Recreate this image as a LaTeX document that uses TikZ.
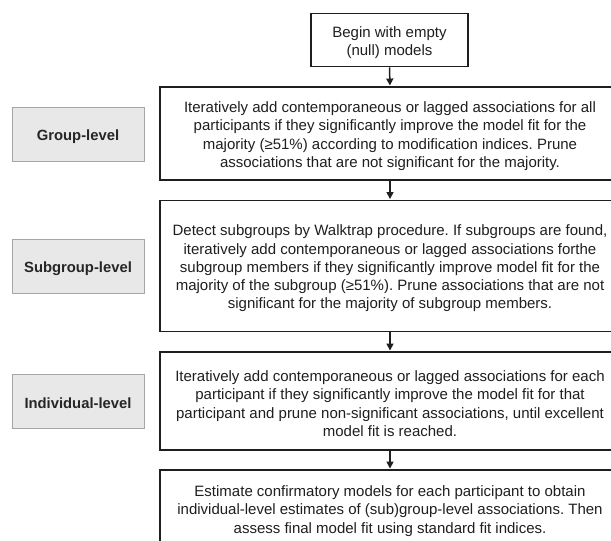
\documentclass[tikz,border=0pt]{standalone}
\usepackage{fontspec}
\setmainfont{Liberation Sans}
\usetikzlibrary{arrows.meta}
\frenchspacing
\begin{document}
\begin{tikzpicture}[x=1pt,y=-1pt,
  mainbox/.style={draw=black!88,line width=1.9pt,fill=white,minimum width=460pt,inner sep=0pt},
  maintext/.style={align=center,font=\frenchspacing\fontsize{15}{18.3}\selectfont,text=black!88,inner sep=0pt},
  levelbox/.style={draw=black!35,line width=0.9pt,fill=black!9,minimum width=132pt,minimum height=54pt,inner sep=0pt},
  leveltext/.style={font=\bfseries\fontsize{14.8}{16}\selectfont,text=black!85,inner sep=0pt},
  arr/.style={line width=1.5pt,draw=black!88,-{Triangle[length=7pt,width=7pt]},shorten >=0.5pt}]
\useasboundingbox (0,0) rectangle (611,541);
\clip (0,0) rectangle (611,541);
\node[mainbox,minimum width=157pt,minimum height=53pt] (start) at (389.5,40) {};
\node[mainbox,minimum height=93pt] (grp) at (390,133.5) {};
\node[mainbox,minimum height=131pt] (sub) at (390,266) {};
\node[mainbox,minimum height=98pt] (ind) at (390,401) {};
\node[mainbox,minimum height=78pt] (conf) at (390,509) {};
\node[maintext] (startT) at (389.5,42.5) {Begin with empty\\(null) models};
\node[maintext] (grpT) at (390,136) {Iteratively add contemporaneous or lagged associations for all\\participants if they significantly improve the model fit for the\\majority (≥51\%) according to modification indices. Prune\\associations that are not significant for the majority.};
\node[maintext] (subT) at (390,268.5) {Detect subgroups by Walktrap procedure. If subgroups are found,\\iteratively add contemporaneous or lagged associations forthe\\subgroup members if they significantly improve model fit for the\\majority of the subgroup (≥51\%). Prune associations that are not\\significant for the majority of subgroup members.};
\node[maintext] (indT) at (390,403.5) {Iteratively add contemporaneous or lagged associations for each\\participant if they significantly improve the model fit for that\\participant and prune non-significant associations, until excellent\\model fit is reached.};
\node[maintext] (confT) at (390,511) {Estimate confirmatory models for each participant to obtain\\individual-level estimates of (sub)group-level associations. Then\\assess final model fit using standard fit indices.};
\node[levelbox] (lg) at (78,134) {};
\node[levelbox] (ls) at (78,266.5) {};
\node[levelbox] (li) at (78,401) {};
\node[leveltext] (lgT) at (78,136.5) {Group-level};
\node[leveltext] (lsT) at (78,268.5) {Subgroup-level};
\node[leveltext] (liT) at (78,403) {Individual-level};
\draw[arr] (start.south) -- (grp.north);
\draw[arr] (grp.south) -- (sub.north);
\draw[arr] (sub.south) -- (ind.north);
\draw[arr] (ind.south) -- (conf.north);
\end{tikzpicture}
\end{document}
